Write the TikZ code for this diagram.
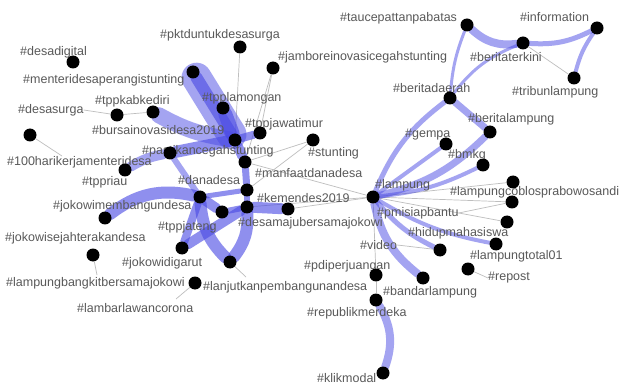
\documentclass[tikz,border=0pt]{standalone}
\usepackage{fontspec}
\setmainfont{Liberation Sans}
\definecolor{edgeblue}{RGB}{75,75,228}
\definecolor{thingray}{RGB}{190,190,190}
\pgfdeclarelayer{bg}
\pgfdeclarelayer{edges}
\pgfdeclarelayer{labels}
\pgfsetlayers{bg,edges,labels,main}
\begin{document}
\begin{tikzpicture}[x=1pt,y=-1pt,
  dot/.style={circle,fill=black,inner sep=0pt,minimum size=13pt},
  lbl/.style={anchor=west,inner sep=0pt,text=black!65,font=\fontsize{12.5}{13}\selectfont},
  be/.style={draw=edgeblue,line width=#1,draw opacity=0.5,line cap=round},
  bd/.style={draw=edgeblue,line width=#1,draw opacity=0.62,line cap=round},
  te/.style={draw=thingray,line width=0.7pt}]
\begin{pgfonlayer}{bg}
\fill[white] (0,0) rectangle (619,385);
\end{pgfonlayer}
\useasboundingbox (0,0) rectangle (619,385);

% ---- nodes (dots) ----
\node[dot] (A) at (73,62) {};
\node[dot] (B) at (193,72) {};
\node[dot] (C) at (240,47) {};
\node[dot] (D) at (273,68) {};
\node[dot] (E) at (153,112) {};
\node[dot] (F) at (117,115) {};
\node[dot] (G) at (223,108) {};
\node[dot] (H) at (235,140) {};
\node[dot] (I) at (260,133) {};
\node[dot] (J) at (170,153) {};
\node[dot] (K) at (30,135) {};
\node[dot] (L) at (125,170) {};
\node[dot] (M) at (245,162) {};
\node[dot] (N) at (313,140) {};
\node[dot] (O) at (247,190) {};
\node[dot] (P) at (200,197) {};
\node[dot] (Q) at (222,212) {};
\node[dot] (R) at (247,207) {};
\node[dot] (S) at (288,209) {};
\node[dot] (T) at (105,218) {};
\node[dot] (U) at (182,248) {};
\node[dot] (V) at (230,262) {};
\node[dot] (W) at (93,255) {};
\node[dot] (X) at (195,283) {};

\node[dot] (a) at (467,25) {};
\node[dot] (b) at (597,28) {};
\node[dot] (c) at (523,43) {};
\node[dot] (d) at (574,78) {};
\node[dot] (e) at (450,98) {};
\node[dot] (f) at (490,132) {};
\node[dot] (g) at (446,144) {};
\node[dot] (h) at (483,165) {};
\node[dot] (i) at (373,197) {};
\node[dot] (j) at (513,182) {};
\node[dot] (k) at (512,202) {};
\node[dot] (l) at (507,222) {};
\node[dot] (m) at (496,244) {};
\node[dot] (n) at (440,250) {};
\node[dot] (o) at (468,269) {};
\node[dot] (p) at (423,278) {};
\node[dot] (q) at (376,275) {};
\node[dot] (r) at (376,300) {};
\node[dot] (s) at (383,373) {};

% ---- labels ----
\begin{pgfonlayer}{labels}
\node[lbl] (Ldesadigital) at (20,52) {\#desadigital};
\node[lbl] (Lmenteri) at (23,80) {\#menteridesaperangistunting};
\node[lbl] (Lpktd) at (160,35) {\#pktduntukdesasurga};
\node[lbl] (Ljambore) at (278,57) {\#jamboreinovasicegahstunting};
\node[lbl] (Ltaucepat) at (340,18) {\#taucepattanpabatas};
\node[lbl] (Linfo) at (520,17) {\#information};
\node[lbl] (Lterkini) at (470,57) {\#beritaterkini};
\node[lbl] (Ltribun) at (512,92) {\#tribunlampung};
\node[lbl] (Ldaerah) at (393,88) {\#beritadaerah};
\node[lbl] (Lberitalampung) at (468,119) {\#beritalampung};
\node[lbl] (Lgempa) at (405,135) {\#gempa};
\node[lbl] (Lbmkg) at (448,155) {\#bmkg};
\node[lbl] (Llampung) at (375,185) {\#lampung};
\node[lbl] (Lcoblos) at (450,192) {\#lampungcoblosprabowosandi};
\node[lbl] (Lpmi) at (377,213) {\#pmisiapbantu};
\node[lbl] (Lhidup) at (408,233) {\#hidupmahasiswa};
\node[lbl] (Lvideo) at (360,245) {\#video};
\node[lbl] (Lpdi) at (304,266) {\#pdiperjuangan};
\node[lbl] (Ltotal) at (470,256) {\#lampungtotal01};
\node[lbl] (Lrepost) at (488,278) {\#repost};
\node[lbl] (Lbandar) at (383,292) {\#bandarlampung};
\node[lbl] (Lrepublik) at (307,313) {\#republikmerdeka};
\node[lbl] (Lklik) at (317,378) {\#klikmodal};
\node[lbl] (Llanjut) at (203,287) {\#lanjutkanpembangunandesa};
\node[lbl] (Llambar) at (77,308) {\#lambarlawancorona};
\node[lbl] (Lbangkit) at (6,283) {\#lampungbangkitbersamajokowi};
\node[lbl] (Lgarut) at (122,263) {\#jokowidigarut};
\node[lbl] (Lsejahtera) at (5,238) {\#jokowisejahterakandesa};
\node[lbl] (Lmembangun) at (53,206) {\#jokowimembangundesa};
\node[lbl] (Lriau) at (82,182) {\#tppriau};
\node[lbl] (L100) at (7,162) {\#100harikerjamenteridesa};
\node[lbl] (Ljateng) at (158,227) {\#tppjateng};
\node[lbl] (Ldanadesa) at (178,180) {\#danadesa};
\node[lbl] (Ldesamaju) at (238,223) {\#desamajubersamajokowi};
\node[lbl] (Lkemendes) at (257,198) {\#kemendes2019};
\node[lbl] (Lmanfaat) at (255,173) {\#manfaatdanadesa};
\node[lbl] (Lstunting) at (308,153) {\#stunting};
\node[lbl] (Ljatim) at (245,124) {\#tppjawatimur};
\node[lbl] (Llamongan) at (202,98) {\#tpplamongan};
\node[lbl] (Lkediri) at (95,101) {\#tppkabkediri};
\node[lbl] (Ldesasurga) at (18,110) {\#desasurga};
\node[lbl] (Lbursa) at (92,130) {\#bursainovasidesa2019};
\node[lbl] (Lcegah) at (142,151) {\#pastikancegahstunting};
\end{pgfonlayer}

\coordinate (k1) at (62,156);
\coordinate (w1) at (97,275);
\coordinate (x1) at (176,299);
\coordinate (v1) at (246,277);

% ---- connectors ----
\begin{pgfonlayer}{edges}
% thin links
\draw[te] (C) -- (H);
\draw[te] (D) -- (I);
\draw[te] (D) -- (M);
\draw[te] (N) -- (M);
\draw[te] (N) -- (O);
\draw[te] (K) -- (k1);
\draw[te] (Ldesasurga.east) -- (F);
\draw[te] (F) -- (E);
\draw[te] (W) -- (w1);
\draw[te] (X) -- (x1);
\draw[te] (V) -- (v1);
\draw[te] (M) -- (i);
\draw[te] (R) -- (i);
\draw[te] (S) -- (i);
\draw[te] (i) -- (q);
\draw[te] (q) -- (r);
\draw[te] (i) -- (j);
\draw[te] (i) -- (k);
\draw[te] (Lpmi.east) -- (k);
\draw[te] (i) -- (l);
\draw[te] (Lvideo.east) -- (n);
\draw[te] (o) -- (Lrepost.west);
\draw[te] (c) -- (d);
% weighted links, left group
\draw[be=30] (B) -- (H);
\draw[bd=12] (B) -- (H);
\draw[bd=14] (G) -- (H);
\draw[be=16] (E) to[bend right=10] (H);
\draw[bd=12] (J) -- (H);
\draw[be=10] (L) to[bend left=10] (J);
\draw[bd=8] (I) -- (H);
\draw[bd=10] (H) -- (M);
\draw[bd=7] (M) -- (O);
\draw[be=6] (J) -- (P);
\draw[bd=12] (T) to[bend left=25] (P);
\draw[bd=10] (P) -- (Q);
\draw[bd=12] (P) to[bend right=20] (V);
\draw[bd=8] (U) -- (P);
\draw[bd=10] (U) -- (R);
\draw[bd=12] (V) to[bend right=20] (R);
\draw[bd=11] (R) -- (S);
\draw[bd=6] (Q) -- (R);
\draw[bd=6] (O) -- (R);
\draw[bd=5] (P) -- (O);
% weighted links, right group
\draw[be=8] (a) to[bend right=25] (c);
\draw[be=5] (c) to[bend right=15] (b);
\draw[be=4] (b) to[bend right=10] (d);
\draw[be=3] (a) to[bend right=8] (e);
\draw[be=3] (c) to[bend right=15] (e);
\draw[be=5] (e) to[bend right=15] (i);
\draw[be=7] (e) -- (f);
\draw[be=7] (f) to[bend left=15] (i);
\draw[be=4] (g) -- (i);
\draw[be=4] (h) to[bend left=10] (i);
\draw[be=4] (i) to[bend right=10] (m);
\draw[be=5] (i) to[bend right=12] (n);
\draw[be=8] (i) to[bend right=20] (p);
\draw[be=8] (r) to[bend left=25] (s);
\end{pgfonlayer}
\end{tikzpicture}
\end{document}
